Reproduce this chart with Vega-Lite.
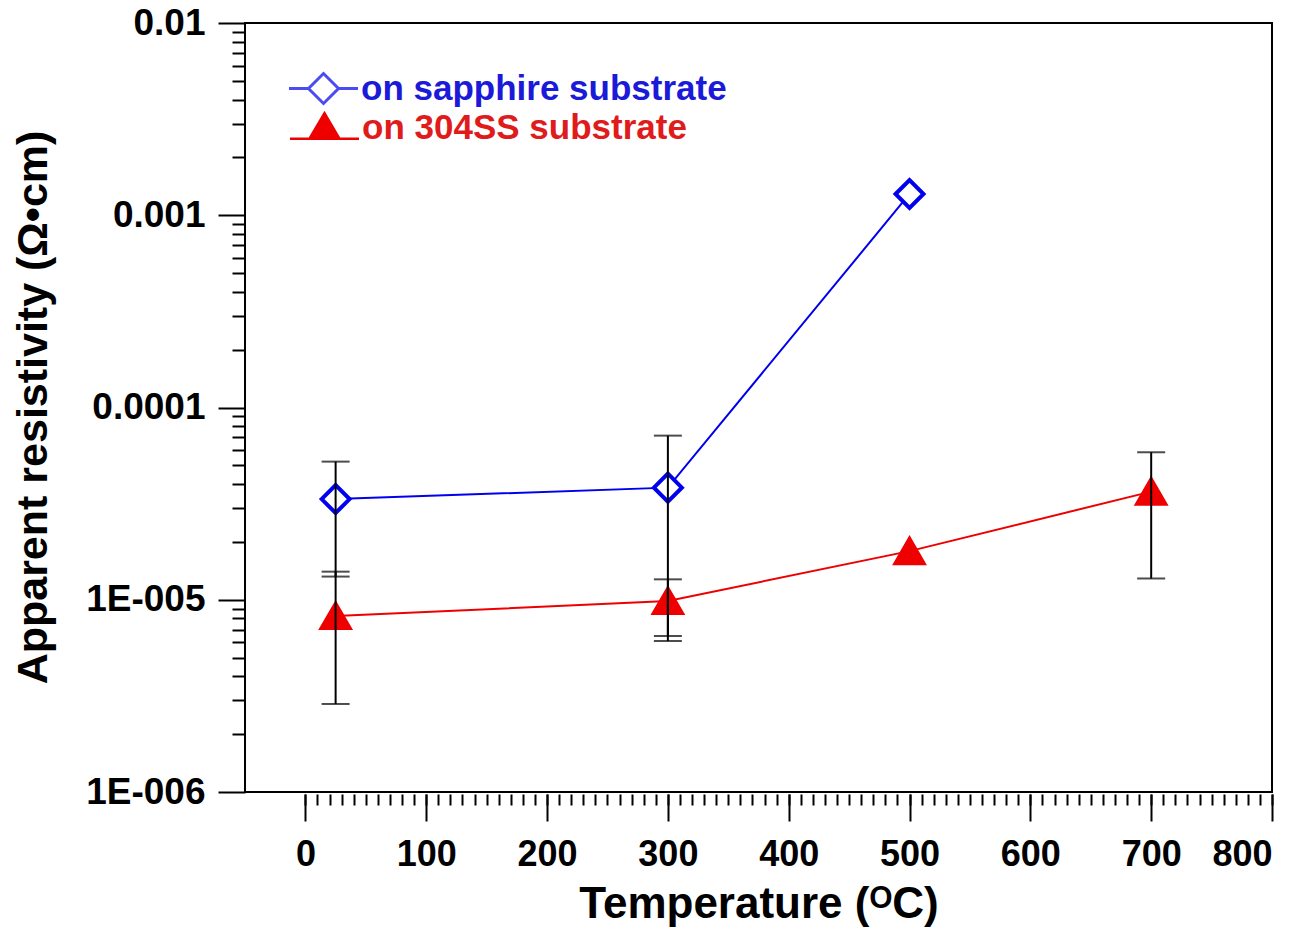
{
  "$schema": "https://vega.github.io/schema/vega-lite/v6.json",
  "autosize": "none",
  "padding": {"left": 245, "top": 23, "right": 42, "bottom": 141},
  "width": 1027,
  "height": 769,
  "background": "white",
  "config": {
    "view": {"stroke": "black", "strokeWidth": 2},
    "axis": {"domain": false, "grid": false, "tickColor": "black", "tickWidth": 2, "labelColor": "black", "titleColor": "black", "labelFont": "Liberation Sans", "titleFont": "Liberation Sans", "labelFontWeight": "bold", "titleFontWeight": "bold"}
  },
  "data": {
    "values": [
      {"T": 25, "series": "on sapphire substrate", "rho": 3.34e-5, "lo": 1.32e-5, "hi": 5.23e-5},
      {"T": 300, "series": "on sapphire substrate", "rho": 3.83e-5, "lo": 6.10e-6, "hi": 7.14e-5},
      {"T": 500, "series": "on sapphire substrate", "rho": 1.29e-3, "lo": null, "hi": null},
      {"T": 25, "series": "on 304SS substrate", "rho": 8.23e-6, "lo": 2.87e-6, "hi": 1.40e-5},
      {"T": 300, "series": "on 304SS substrate", "rho": 9.85e-6, "lo": 6.48e-6, "hi": 1.277e-5},
      {"T": 500, "series": "on 304SS substrate", "rho": 1.79e-5, "lo": null, "hi": null},
      {"T": 700, "series": "on 304SS substrate", "rho": 3.65e-5, "lo": 1.29e-5, "hi": 5.85e-5}
    ]
  },
  "resolve": {"axis": {"x": "independent", "y": "independent"}},
  "layer": [
    {
      "mark": {"type": "line", "strokeWidth": 2},
      "encoding": {
        "x": {"field": "T", "type": "quantitative",
          "scale": {"domain": [-50, 800], "nice": false, "zero": false},
          "axis": {"orient": "bottom", "values": [0, 100, 200, 300, 400, 500, 600, 700, 800], "tickSize": 27, "labelFontSize": 36, "labelPadding": 16, "title": "Temperature (ᴼC)", "titleFontSize": 44, "titleBaseline": "alphabetic", "titleY": 123, "offset": 2}},
        "y": {"field": "rho", "type": "quantitative",
          "scale": {"type": "log", "domain": [1e-6, 0.01], "nice": false},
          "axis": {"orient": "left", "values": [1e-6, 1e-5, 1e-4, 1e-3, 1e-2], "tickSize": 27, "labelFontSize": 37, "labelPadding": 13,
            "labelExpr": "datum.value > 0.005 ? '0.01' : datum.value > 0.0005 ? '0.001' : datum.value > 0.00005 ? '0.0001' : datum.value > 0.000005 ? '1E-005' : '1E-006'",
            "title": "Apparent resistivity (Ω•cm)", "titleFontSize": 43, "titleAngle": -90, "titleAlign": "center", "titleBaseline": "alphabetic", "titleX": -199, "titleY": 384}},
        "color": {"field": "series", "type": "nominal",
          "scale": {"domain": ["on sapphire substrate", "on 304SS substrate"], "range": ["#0000ee", "#ee0000"]},
          "legend": {"title": null, "orient": "none", "legendX": 61, "legendY": 48, "padding": 0,
            "values": ["on sapphire substrate"],
            "symbolType": "M-2.3,0H-1M1,0H2.3M-1,0L0,-1L1,0L0,1Z",
            "symbolSize": 900, "symbolStrokeWidth": 3, "labelOffset": 20,
            "labelFont": "Liberation Sans", "labelFontWeight": "bold", "labelFontSize": 35, "labelLimit": 700,
            "labelColor": "#1a1ad8"}}
      }
    },
    {
      "mark": {"type": "point", "filled": true, "strokeWidth": 4, "size": 780},
      "encoding": {
        "x": {"field": "T", "type": "quantitative", "axis": null},
        "y": {"field": "rho", "type": "quantitative", "axis": null},
        "shape": {"field": "series", "type": "nominal",
          "scale": {"domain": ["on 304SS substrate", "on sapphire substrate"], "range": ["triangle-up", "diamond"]},
          "legend": null},
        "opacity": {"field": "series", "type": "nominal",
          "scale": {"domain": ["on 304SS substrate", "on sapphire substrate", "-"], "range": [1, 1]},
          "legend": {"title": null, "orient": "none", "legendX": 62, "legendY": 87, "padding": 0,
            "values": ["on 304SS substrate"],
            "symbolType": "M-2.3,0.75H-1M1,0.75H2.3M-1,0.75L0,-0.95L1,0.75Z",
            "symbolSize": 900, "symbolStrokeWidth": 2.5, "symbolFillColor": "#ee0000", "symbolStrokeColor": "#ee0000", "labelOffset": 20,
            "labelFont": "Liberation Sans", "labelFontWeight": "bold", "labelFontSize": 35, "labelLimit": 700,
            "labelColor": "#e01b1b"}},
        "stroke": {"field": "series", "type": "nominal",
          "scale": {"domain": ["on sapphire substrate", "on 304SS substrate"], "range": ["#0000ee", "#ee0000"]}},
        "fill": {"field": "series", "type": "nominal",
          "scale": {"domain": ["on sapphire substrate", "on 304SS substrate"], "range": ["white", "#ee0000"]}}
      }
    },
    {
      "transform": [{"filter": "isValid(datum.lo)"}],
      "mark": {"type": "rule", "color": "black", "strokeWidth": 2},
      "encoding": {
        "x": {"field": "T", "type": "quantitative",
          "axis": {"orient": "bottom", "values": [0,10,20,30,40,50,60,70,80,90,100,110,120,130,140,150,160,170,180,190,200,210,220,230,240,250,260,270,280,290,300,310,320,330,340,350,360,370,380,390,400,410,420,430,440,450,460,470,480,490,500,510,520,530,540,550,560,570,580,590,600,610,620,630,640,650,660,670,680,690,700,710,720,730,740,750,760,770,780,790,800], "tickSize": 11, "labels": false, "title": null, "offset": 2}},
        "y": {"field": "lo", "type": "quantitative",
          "axis": {"orient": "left", "values": [2e-6,3e-6,4e-6,5e-6,6e-6,7e-6,8e-6,9e-6,2e-5,3e-5,4e-5,5e-5,6e-5,7e-5,8e-5,9e-5,2e-4,3e-4,4e-4,5e-4,6e-4,7e-4,8e-4,9e-4,2e-3,3e-3,4e-3,5e-3,6e-3,7e-3,8e-3,9e-3], "tickSize": 13, "labels": false, "title": null}},
        "y2": {"field": "hi"}
      }
    },
    {
      "transform": [{"filter": "isValid(datum.lo)"}],
      "mark": {"type": "tick", "orient": "horizontal", "color": "black", "size": 28, "thickness": 2},
      "encoding": {
        "x": {"field": "T", "type": "quantitative", "axis": null},
        "y": {"field": "lo", "type": "quantitative", "axis": null}
      }
    },
    {
      "transform": [{"filter": "isValid(datum.hi)"}],
      "mark": {"type": "tick", "orient": "horizontal", "color": "black", "size": 28, "thickness": 2},
      "encoding": {
        "x": {"field": "T", "type": "quantitative", "axis": null},
        "y": {"field": "hi", "type": "quantitative", "axis": null}
      }
    }
  ]
}
